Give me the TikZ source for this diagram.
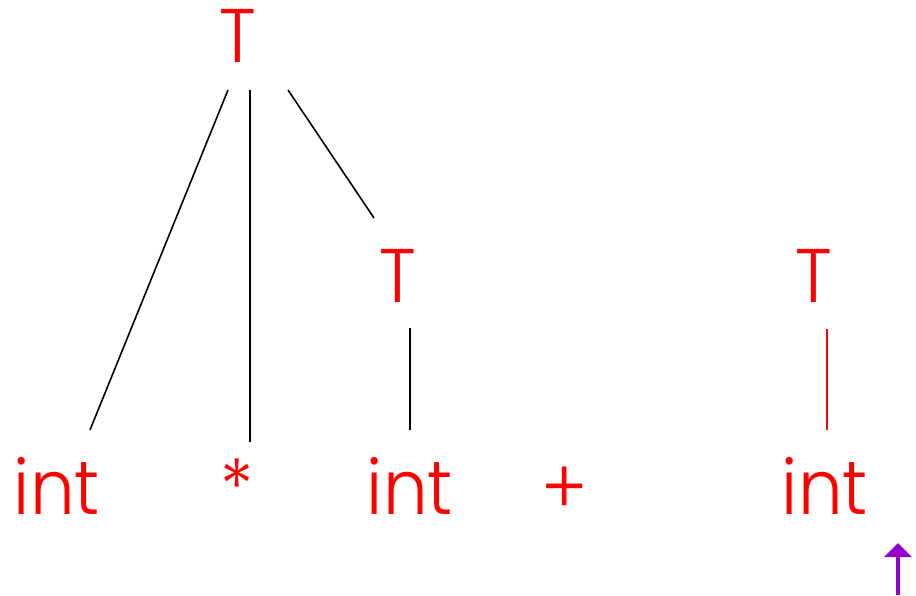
\documentclass[tikz,border=0pt]{standalone}
\usepackage{fontspec}
\setmainfont{Poppins Light}[FakeStretch=0.93]
\usetikzlibrary{arrows.meta}
\definecolor{sym}{RGB}{255,0,0}
\definecolor{arr}{RGB}{150,0,205}
\tikzset{
  lbl/.style={anchor=base, inner sep=0pt, text=sym, font=\fontsize{76}{80}\selectfont},
  edge/.style={line width=1.6pt, black},
  redge/.style={line width=1.6pt, sym},
  ptr/.style={line width=4pt, arr, -{Triangle[length=14pt,width=27pt]}}
}
\begin{document}
\begin{tikzpicture}[x=1pt,y=-1pt]
\useasboundingbox (0,0) rectangle (916,595);
% labels
\node[lbl] (T1) at (238,62) {T};
\node[lbl] (T2) at (398,302) {T};
\node[lbl] (T3) at (814,302) {T};
\node[lbl] (i1) at (57,514) {int};
\node[lbl] (st) at (237,514) {*};
\node[lbl] (i2) at (410,514) {int};
\node[lbl] (pl) at (565,514) {+};
\node[lbl] (i3) at (825,514) {int};
% connector ends
\coordinate (a1) at (228,90);
\coordinate (a2) at (250,90);
\coordinate (a3) at (288,90);
\coordinate (b1) at (90,430);
\coordinate (b2) at (250,442);
\coordinate (b3) at (374,218);
\coordinate (c1) at (410,328);
\coordinate (c2) at (410,430);
\coordinate (d1) at (827,329);
\coordinate (d2) at (827,430);
\coordinate (p0) at (898,595);
\coordinate (p1) at (898,543);
\draw[edge] (a1) -- (b1);
\draw[edge] (a2) -- (b2);
\draw[edge] (a3) -- (b3);
\draw[edge] (c1) -- (c2);
\draw[redge] (d1) -- (d2);
\draw[ptr] (p0) -- (p1);
\end{tikzpicture}
\end{document}
